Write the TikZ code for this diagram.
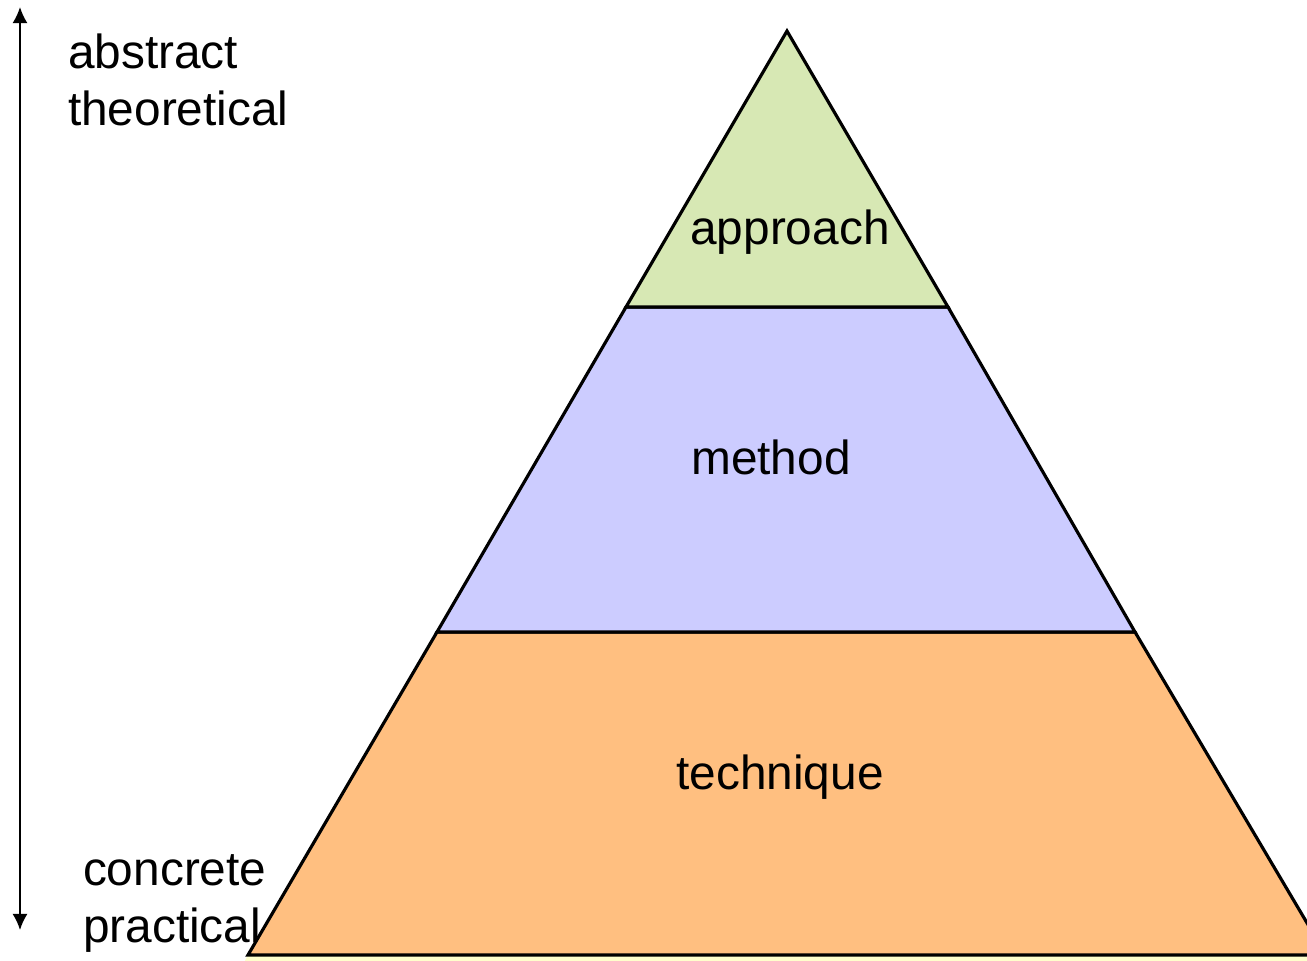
\documentclass[tikz,border=0pt]{standalone}
\usepackage{fontspec}
\setmainfont{Liberation Sans}
\usetikzlibrary{arrows.meta}
\definecolor{layer_green}{RGB}{215,232,180}
\definecolor{layer_blue}{RGB}{204,204,255}
\definecolor{layer_orange}{RGB}{255,191,128}
\definecolor{layer_yell}{RGB}{255,255,204}

\begin{document}
\begin{tikzpicture}[>={Latex[width=4.3pt,length=4.6pt]},semithick]
    \tikzstyle{layer}=[draw=black,line width=0.9pt,line join=miter]
    \tikzstyle{label}=[text=black,inner sep=0pt,font=\fontsize{13.6}{16.2}\selectfont]
    \useasboundingbox (0,0) rectangle (13.07,-9.60);
    \clip (0,0) rectangle (13.07,-9.60);

    \coordinate (apex) at (7.87,-0.31);
    \coordinate (L1) at (6.26,-3.07);
    \coordinate (R1) at (9.48,-3.07);
    \coordinate (L2) at (4.37,-6.32);
    \coordinate (R2) at (11.35,-6.32);
    \coordinate (L3) at (2.48,-9.55);
    \coordinate (R3) at (13.26,-9.55);
    \coordinate (L4) at (2.40,-9.70);
    \coordinate (R4) at (13.40,-9.70);

    \fill[layer_yell] (L3) -- (R3) -- (R4) -- (L4) -- cycle;
    \draw[layer,fill=layer_orange] (L2) -- (R2) -- (R3) -- (L3) -- cycle;
    \draw[layer,fill=layer_blue] (L1) -- (R1) -- (R2) -- (L2) -- cycle;
    \draw[layer,fill=layer_green] (apex) -- (R1) -- (L1) -- cycle;

    \node[label] (approach) at (7.90,-2.32) {approach};
    \node[label] (method) at (7.71,-4.57) {method};
    \node[label] (technique) at (7.80,-7.77) {technique};

    \node[label,anchor=base west] (abstract) at (0.67,-0.68) {abstract};
    \node[label,anchor=base west] (theoretical) at (0.67,-1.25) {theoretical};
    \node[label,anchor=base west] (concrete) at (0.82,-8.85) {concrete};
    \node[label,anchor=base west] (practical) at (0.82,-9.42) {practical};

    \coordinate (top) at (0.20,-0.07);
    \coordinate (bottom) at (0.20,-9.30);
    \draw[<->,line width=0.5pt] (bottom) -- (top);
\end{tikzpicture}
\end{document}
